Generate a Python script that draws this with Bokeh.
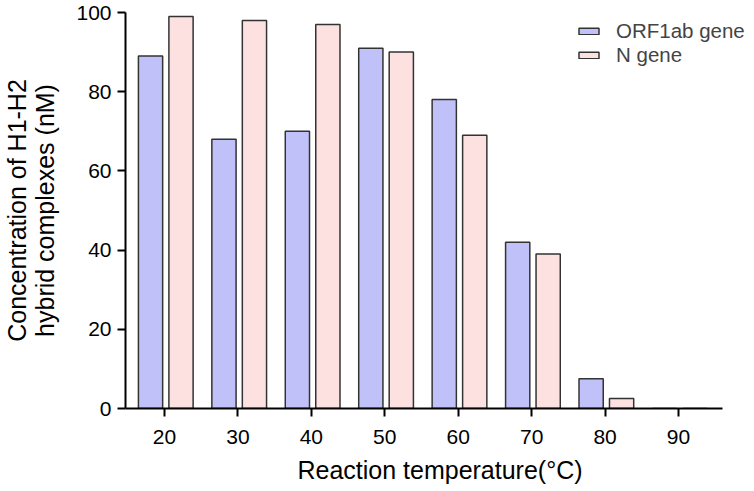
from bokeh.plotting import figure
from bokeh.models import ColumnDataSource, Range1d, FixedTicker, Legend, LegendItem
from bokeh.transform import dodge
from bokeh.embed import file_html
from bokeh.resources import INLINE

temps = [20, 30, 40, 50, 60, 70, 80, 90]
orf1ab = [89, 68, 70, 91, 78, 42, 7.5, 0]
ngene = [99, 98, 97, 90, 69, 39, 2.5, 0]
y_ticks = [0, 20, 40, 60, 80, 100]

src = ColumnDataSource(dict(temp=temps, orf=orf1ab, n=ngene))

FONT = "Liberation Sans"
X_START, X_AXIS_END, X_END = 14.69, 95.99, 100.35

p = figure(width=754, height=491, output_backend="svg", toolbar_location=None,
           x_range=Range1d(X_START, X_END), y_range=Range1d(0, 100),
           min_border_left=125, min_border_right=0, min_border_top=12, min_border_bottom=83)
p.outline_line_color = None
p.grid.visible = False
p.background_fill_color = "white"
p.border_fill_color = "white"

r1 = p.vbar(x=dodge("temp", -1.9, range=p.x_range), top="orf", width=3.3, bottom=0, source=src,
            fill_color="#c1c1fa", line_color="#333333", line_width=1.5)
r2 = p.vbar(x=dodge("temp", 2.25, range=p.x_range), top="n", width=3.3, bottom=0, source=src,
            fill_color="#fde0e0", line_color="#333333", line_width=1.5)

for ax in (p.xaxis[0], p.yaxis[0]):
    ax.axis_line_width = 2
    ax.axis_line_color = "black"
    ax.major_tick_line_width = 2
    ax.major_tick_line_color = "black"
    ax.major_tick_out = 8
    ax.major_tick_in = 0
    ax.minor_tick_line_color = None
    ax.major_label_text_font = FONT
    ax.major_label_text_font_size = "21px"
    ax.major_label_text_color = "black"
    ax.axis_label_text_font = FONT
    ax.axis_label_text_font_size = "25px"
    ax.axis_label_text_font_style = "normal"
    ax.axis_label_text_color = "black"

p.xaxis.ticker = FixedTicker(ticks=temps)
p.xaxis.bounds = (X_START, X_AXIS_END)
p.yaxis.ticker = FixedTicker(ticks=y_ticks)
p.xaxis.major_label_standoff = 13
p.yaxis.major_label_standoff = 6
p.xaxis.axis_label = "Reaction temperature(°C)"
p.xaxis.axis_label_standoff = 9
p.yaxis.axis_label = "Concentration of H1-H2\nhybrid complexes (nM)"
p.yaxis.axis_label_text_line_height = 1.0
p.yaxis.axis_label_standoff = 14

legend = Legend(items=[LegendItem(label="ORF1ab gene", renderers=[r1]),
                       LegendItem(label="N gene", renderers=[r2])],
                location=(451, 341), orientation="vertical",
                glyph_width=25, glyph_height=8, label_height=8,
                label_text_font=FONT, label_text_font_size="20.5px",
                label_standoff=15, spacing=0, padding=0, margin=0,
                border_line_color=None, background_fill_alpha=0)
p.add_layout(legend, "center")

open("out.html", "w").write(file_html(p, INLINE))
